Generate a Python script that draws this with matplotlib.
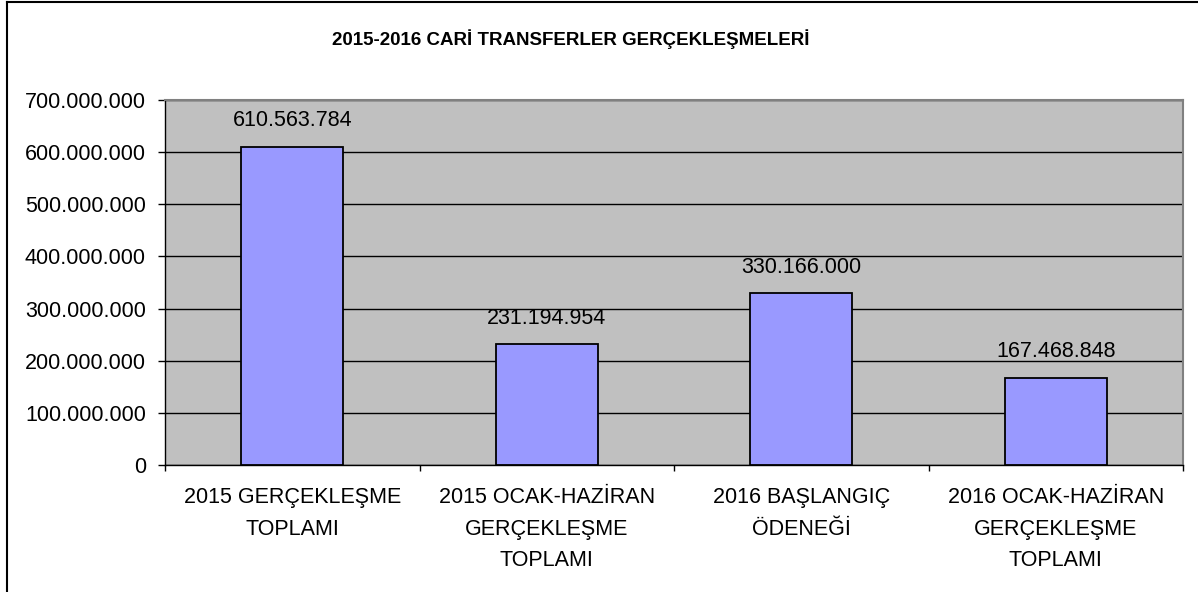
import matplotlib
matplotlib.use("Agg")
import matplotlib.pyplot as plt
from matplotlib.lines import Line2D
from matplotlib.ticker import FuncFormatter, MultipleLocator

categories = ["2015 GERÇEKLEŞME\nTOPLAMI",
              "2015 OCAK-HAZİRAN\nGERÇEKLEŞME\nTOPLAMI",
              "2016 BAŞLANGIÇ\nÖDENEĞİ",
              "2016 OCAK-HAZİRAN\nGERÇEKLEŞME\nTOPLAMI"]
values = [610563784, 231194954, 330166000, 167468848]
title = "2015-2016 CARİ TRANSFERLER GERÇEKLEŞMELERİ"

plt.rcParams['font.family'] = ['Liberation Sans', 'DejaVu Sans']

W, H = 1198, 592
fig = plt.figure(figsize=(W/100, H/100), dpi=100)
ax = fig.add_axes([165/W, 1-465/H, (1183-165)/W, (465-100)/H])
ax.set_facecolor('#c0c0c0')

def dotfmt(v):
    return f"{int(round(v)):,}".replace(",", ".")

x = list(range(len(values)))
ax.bar(x, values, width=0.4, color='#9999ff', edgecolor='black', linewidth=1.3, zorder=3)
ax.set_xlim(-0.5, len(values)-0.5)
ax.set_ylim(0, 700000000)
ax.yaxis.set_major_locator(MultipleLocator(100000000))
ax.yaxis.set_major_formatter(FuncFormatter(lambda v, p: dotfmt(v)))
ax.grid(axis='y', color='black', linewidth=1, zorder=1)
ax.set_axisbelow(True)

ax.set_xticks([i + 0.5 for i in range(-1, len(values))])
ax.set_xticklabels([])
ax.set_xticks(x, minor=True)
ax.set_xticklabels(categories, minor=True, fontsize=15.5, linespacing=1.65)
ax.tick_params(axis='x', which='minor', length=0, pad=16)
ax.tick_params(axis='x', which='major', length=4.5, width=1, direction='out')
ax.tick_params(axis='y', length=5, width=1, direction='out', labelsize=15.5, pad=8.7)

for s in ['top', 'right']:
    ax.spines[s].set_color('#808080')
    ax.spines[s].set_linewidth(1.5)
for s in ['left', 'bottom']:
    ax.spines[s].set_color('black')
    ax.spines[s].set_linewidth(1)

for xi, v in zip(x, values):
    ax.annotate(dotfmt(v), (xi, v), xytext=(0, 11), textcoords='offset points',
                ha='center', va='bottom', fontsize=15.5)

fig.text(571/W, 1-39/H, title, ha='center', va='center', fontsize=13.5, fontweight='bold')

fig.add_artist(Line2D([7/W, 7/W], [0, 1-2/H], transform=fig.transFigure, color='black', linewidth=1.5))
fig.add_artist(Line2D([7/W, 1], [1-2/H, 1-2/H], transform=fig.transFigure, color='black', linewidth=1.5))

fig.savefig("out.png", dpi=100)
